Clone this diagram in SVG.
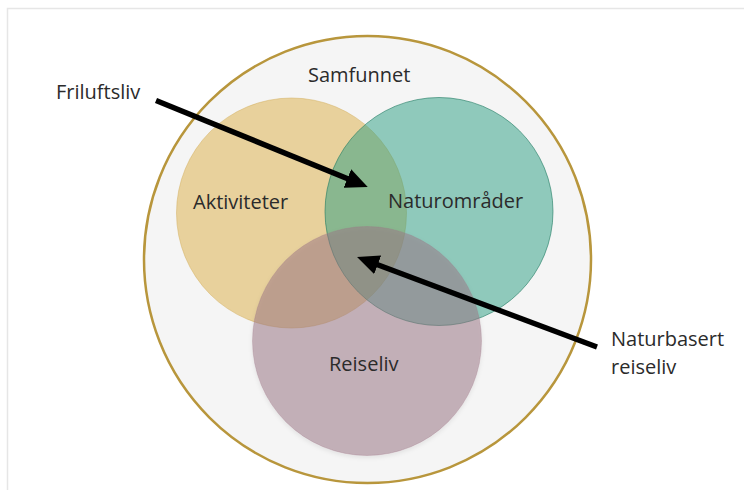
<svg xmlns="http://www.w3.org/2000/svg" width="744" height="490" viewBox="0 0 744 490">
  <defs>
    <style>
      .lbl { font-family: "Open Sans", "Liberation Sans", sans-serif; font-size: 20px; fill: #2b2b2b; }
      .set { stroke-width: 1; }
      .conn { stroke: #000000; stroke-width: 5.5; fill: none; }
    </style>
    <marker id="ah" viewBox="0 0 22 20" refX="5" refY="10" markerWidth="22" markerHeight="20" markerUnits="userSpaceOnUse" orient="auto">
      <path d="M0,0 L22,10 L0,20 z" fill="#000000"/>
    </marker>
    <filter id="sh" x="-10%" y="-10%" width="120%" height="125%">
      <feDropShadow dx="0" dy="2" stdDeviation="2" flood-color="#000" flood-opacity="0.15"/>
    </filter>
  </defs>
  <rect x="0" y="0" width="744" height="490" fill="#ffffff"/>
  <rect x="7.5" y="8.5" width="760" height="500" fill="none" stroke="#e6e6e6" stroke-width="1.5"/>

  <g id="samfunnet">
    <circle cx="367.5" cy="259.5" r="223.5" fill="#f5f5f5" stroke="#b8963c" stroke-width="2.5"/>
    <text class="lbl" x="308" y="82">Samfunnet</text>
  </g>

  <g id="aktiviteter">
    <circle class="set" cx="291.5" cy="213" r="115" fill="#dcb14a" fill-opacity="0.52" stroke="#d4b060" stroke-opacity="0.5"/>
  </g>
  <g id="naturomrader">
    <circle class="set" cx="439" cy="211.5" r="114" fill="#299d81" fill-opacity="0.5" stroke="#1e7a60" stroke-opacity="0.6"/>
  </g>
  <g id="reiseliv">
    <circle class="set" cx="367" cy="341" r="114.5" fill="#9b7585" fill-opacity="0.5" stroke="#9b7585" stroke-opacity="0.3" filter="url(#sh)"/>
  </g>

  <g id="labels">
    <text class="lbl" x="193" y="209">Aktiviteter</text>
    <text class="lbl" x="388" y="208">Naturområder</text>
    <text class="lbl" x="329" y="371">Reiseliv</text>
  </g>

  <g id="friluftsliv">
    <text class="lbl" x="56" y="99">Friluftsliv</text>
  </g>
  <g id="naturbasert-reiseliv">
    <text class="lbl" x="611" y="346">Naturbasert</text>
    <text class="lbl" x="611" y="374">reiseliv</text>
  </g>

  <g id="connectors">
    <line class="conn" x1="156" y1="100.5" x2="352" y2="180.5" marker-end="url(#ah)"/>
    <line class="conn" x1="597" y1="347" x2="373" y2="263" marker-end="url(#ah)"/>
  </g>
</svg>
